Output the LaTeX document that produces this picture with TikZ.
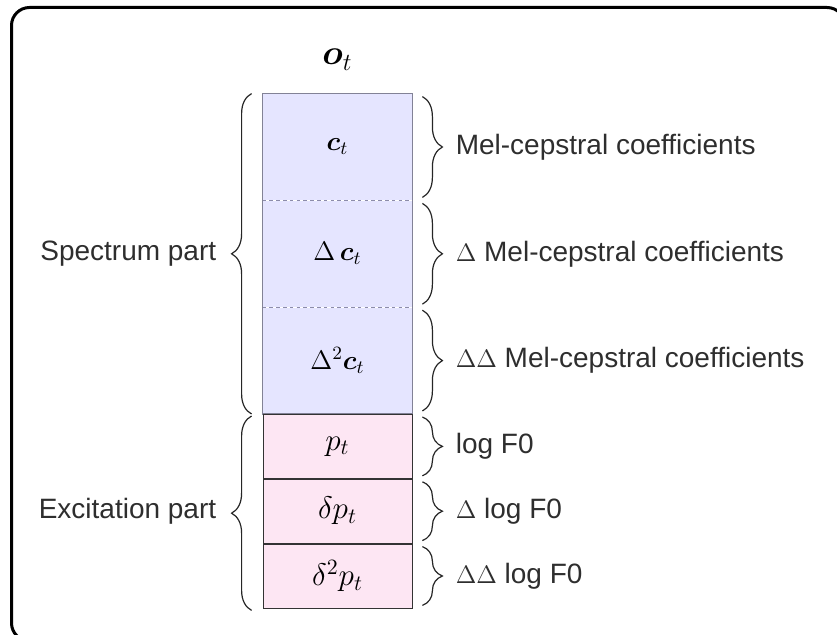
\RequirePackage{fix-cm}
\documentclass[tikz,border=0pt]{standalone}
\usepackage[no-math]{fontspec}
\setmainfont{Liberation Sans}
\usepackage{bm}
\usetikzlibrary{positioning,decorations.pathreplacing}

\definecolor{dashgray}{RGB}{140,140,170}
\definecolor{specedge}{RGB}{130,130,150}
\newcommand{\dlt}[1]{{\fontsize{12.6}{15}\selectfont$#1$}}

\tikzset{
  speccell/.style={fill=blue!10, minimum width=74.5pt, minimum height=53pt, inner sep=0pt,
    font=\fontsize{13.4}{15}\selectfont},
  exccell/.style={draw=black!80, fill=magenta!10, minimum width=74.5pt, minimum height=32pt,
    inner sep=0pt, font=\fontsize{15.6}{18}\selectfont},
  lbl/.style={text=black!82, inner sep=0pt, font=\fontsize{14}{17}\selectfont},
  brc/.style={decorate, decoration={brace, amplitude=10pt}, line width=0.6pt, black!85},
}

\begin{document}
\begin{tikzpicture}[x=0.5pt, y=-0.5pt]
  \useasboundingbox (0,0) rectangle (837,635);
  \clip (0,0) rectangle (837,635);
  % cadre
  \draw[line width=1.5pt, rounded corners=9pt] (11.5,7.5) rectangle (845,641);
  % partie spectre
  \node[speccell] (c1) at (337.5,147) {$\bm{c}_t$};
  \node[speccell, below=0pt of c1] (c2) {$\Delta\,\bm{c}_t$};
  \node[speccell, below=0pt of c2] (c3) {$\Delta^{2}\bm{c}_t$};
  \draw[dashgray, line width=0.45pt, dash pattern=on 1.8pt off 1.6pt]
    (c1.south west) -- (c1.south east) (c2.south west) -- (c2.south east);
  \draw[specedge, line width=0.8pt] (c1.north west) rectangle (c3.south east);
  % partie excitation
  \node[exccell, below=0pt of c3] (e1) {$p_t$};
  \node[exccell, below=0pt of e1] (e2) {$\delta p_t$};
  \node[exccell, below=0pt of e2] (e3) {$\delta^{2} p_t$};
  \node[anchor=base, font=\fontsize{17.5}{20}\selectfont] (ot) at (337.5,65) {$\bm{o}_t$};
  % accolades gauches
  \draw[brc] ([xshift=-5.5pt]c3.south west) -- ([xshift=-5.5pt]c1.north west);
  \draw[brc] ([xshift=-5.5pt,yshift=-1pt]e3.south west) -- ([xshift=-5.5pt,yshift=-1pt]e1.north west);
  \node[lbl, left=23pt of c2] (spec) {Spectrum part};
  \node[lbl, left=23pt of e2] (exc) {Excitation part};
  % accolades droites
  \foreach \c/\t in {c1/{Mel-cepstral coefficients},
                     c2/{\dlt{\Delta} Mel-cepstral coefficients},
                     c3/{\dlt{\Delta\Delta} Mel-cepstral coefficients},
                     e1/{log F0}, e2/{\dlt{\Delta} log F0}, e3/{\dlt{\Delta\Delta} log F0}}{
    \draw[brc] ([xshift=5pt,yshift=-1.5pt]\c.north east) -- ([xshift=5pt,yshift=1.5pt]\c.south east);
    \node[lbl, right=21.5pt of \c] (l\c) {\t};
  }
\end{tikzpicture}
\end{document}
